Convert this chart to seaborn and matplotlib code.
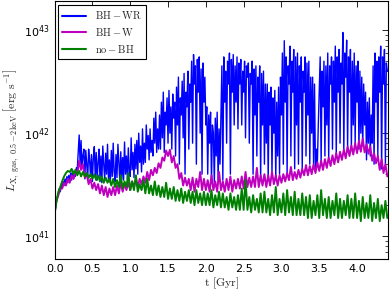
import numpy as np
import pandas as pd
import matplotlib
matplotlib.use("Agg")
import matplotlib.pyplot as plt
import seaborn as sns

# X-ray luminosity, in units of 1e41 erg/s.
# BH-WR is sampled every dt_wr Gyr, the other two every dt Gyr, from t = 0
dt_wr = 0.0125
dt = 0.025
unit = 1e41

bh_wr = [
    1.65, 1.9, 2.2, 2.4, 2.6, 2.9, 2.7, 3.1,
    2.9, 3.4, 3.1, 3.6, 3.2, 3.8, 3.3, 3.9,
    3.4, 4.1, 3.5, 4.4, 3.6, 4.2, 3.8, 4.6,
    4.5, 6.5, 9.6, 5.0, 8.5, 4.8, 6.0, 7.0,
    3.6, 6.8, 5.0, 3.5, 7.0, 5.5, 3.8, 6.2,
    3.4, 5.8, 7.4, 3.7, 6.5, 3.5, 5.2, 7.0,
    3.6, 6.0, 3.3, 7.5, 5.0, 3.5, 6.4, 4.0,
    7.8, 3.4, 5.5, 3.3, 6.8, 3.8, 8.0, 4.2,
    3.4, 6.2, 3.7, 7.8, 5.2, 3.3, 6.6, 3.6,
    5.8, 3.5, 8.2, 4.0, 6.0, 3.6, 7.2, 4.2,
    3.8, 9.0, 4.4, 6.5, 3.7, 7.8, 4.5, 8.5,
    4.0, 10, 5.2, 7.5, 4.2, 11, 5.0, 8.0,
    5.2, 12, 7.0, 9.5, 5.5, 11, 6.5, 8.5,
    6.0, 14, 8.0, 16, 6.5, 11, 7.0, 15,
    7.0, 20, 9.0, 25, 6.5, 16, 12, 22,
    8.0, 26, 10, 18, 7.0, 24, 14, 20,
    6.0, 28, 12, 35, 5.0, 22, 15, 32,
    9.0, 38, 4.0, 25, 18, 40, 7.0, 30,
    20, 50, 8.0, 58, 30, 45, 5.0, 52,
    25, 55, 10, 42, 4.0, 48, 20, 35,
    12, 18, 4.0, 15, 8.0, 16, 3.3, 12,
    10, 3.2, 14, 6.0, 16, 3.5, 11, 5.0,
    15, 45, 3.5, 55, 20, 40, 8.0, 50,
    30, 60, 4.0, 52, 25, 58, 12, 45,
    20, 55, 11, 48, 30, 52, 12, 40,
    25, 50, 9.0, 45, 35, 48, 8.0, 38,
    30, 50, 4.0, 42, 15, 45, 6.0, 35,
    20, 45, 3.5, 38, 12, 40, 5.0, 30,
    8.0, 30, 3.5, 25, 12, 28, 4.0, 22,
    10, 26, 3.5, 20, 6.0, 28, 4.0, 35,
    15, 60, 5.0, 79, 20, 55, 4.0, 45,
    30, 70, 6.0, 50, 25, 65, 4.5, 55,
    12, 60, 5.0, 45, 20, 55, 4.5, 40,
    25, 55, 6.0, 48, 15, 50, 5.0, 35,
    10, 35, 5.0, 30, 4.5, 7.0, 5.0, 12,
    25, 55, 5.0, 40, 18, 50, 6.0, 45,
    12, 60, 5.5, 45, 30, 55, 7.0, 50,
    20, 70, 6.0, 55, 25, 65, 8.0, 48,
    30, 95, 6.5, 60, 35, 80, 7.0, 55,
    25, 65, 7.0, 50, 12, 60, 8.0, 45,
    20, 50, 7.0, 40, 10, 35, 7.5, 30,
    12, 25, 5.5, 20, 8.0, 22, 6.0, 15,
    8.0, 45, 5.0, 60, 20, 50, 6.0, 55,
    25, 70, 4.5, 55, 30, 65, 5.0, 48,
    40,
]

bh_w = [
    1.65, 2.2, 2.5, 2.9, 2.9, 3.3, 3.1, 3.6,
    3.3, 3.9, 3.6, 4.1, 4.0, 5.4, 4.4, 5.0,
    3.7, 4.0, 3.2, 3.6, 2.9, 3.3, 2.8, 3.2,
    2.6, 3.1, 2.5, 3.0, 2.4, 2.9, 2.5, 3.0,
    2.5, 3.1, 2.6, 3.3, 2.7, 3.2, 2.8, 3.3,
    2.8, 3.4, 3.0, 3.6, 3.0, 3.6, 3.2, 3.8,
    3.3, 4.2, 3.5, 4.4, 3.9, 4.6, 4.1, 5.1,
    4.6, 5.8, 5.4, 6.8, 6.0, 6.9, 5.2, 6.0,
    4.6, 5.0, 3.6, 4.1, 3.1, 3.7, 3.1, 3.6,
    2.8, 3.7, 2.7, 3.6, 3.0, 4.2, 2.8, 3.6,
    2.8, 3.5, 2.7, 3.9, 2.8, 3.4, 2.7, 4.2,
    2.8, 3.4, 2.7, 3.6, 2.8, 3.8, 2.7, 3.5,
    2.9, 3.6, 2.9, 3.8, 2.9, 4.2, 3.0, 3.7,
    3.0, 3.8, 3.0, 4.6, 3.0, 3.9, 3.1, 4.0,
    3.0, 3.9, 3.1, 4.2, 3.2, 3.9, 3.1, 3.9,
    3.3, 4.0, 3.4, 4.1, 3.5, 4.7, 3.5, 4.2,
    3.6, 4.4, 3.7, 4.5, 3.9, 4.9, 3.9, 4.8,
    4.0, 5.0, 4.1, 5.2, 4.3, 5.4, 4.4, 5.6,
    4.6, 5.8, 4.8, 6.1, 5.0, 6.4, 5.2, 6.6,
    5.5, 6.9, 5.7, 7.4, 6.0, 7.6, 6.2, 8.0,
    6.4, 8.4, 6.6, 8.9, 6.5, 7.8, 6.3, 7.4,
    5.4, 6.4, 5.1, 6.0, 4.4, 5.6, 4.1, 5.0,
    3.8,
]

no_bh = [
    1.65, 2.2, 2.7, 3.0, 3.4, 3.8, 4.1, 4.3,
    4.2, 4.5, 4.0, 4.4, 3.9, 4.3, 3.8, 4.2,
    3.8, 4.1, 3.7, 4.0, 3.6, 4.0, 3.5, 3.9,
    3.4, 3.8, 3.3, 3.7, 3.3, 3.6, 3.1, 3.6,
    3.0, 3.5, 3.0, 3.9, 2.9, 3.4, 3.0, 4.1,
    2.8, 3.4, 2.8, 3.9, 2.7, 3.2, 2.8, 3.5,
    2.6, 3.6, 2.6, 3.1, 2.5, 3.4, 2.5, 3.1,
    2.4, 3.0, 2.4, 3.3, 2.3, 2.9, 2.3, 3.0,
    2.2, 2.8, 2.2, 2.9, 2.1, 2.7, 2.2, 2.8,
    2.1, 2.7, 2.0, 2.8, 2.1, 2.6, 2.0, 2.7,
    2.0, 2.6, 2.0, 2.8, 1.9, 2.5, 2.0, 2.7,
    1.9, 2.6, 1.9, 2.4, 1.8, 2.6, 1.9, 2.4,
    1.8, 2.5, 1.8, 2.9, 1.8, 3.5, 1.8, 2.4,
    1.7, 2.5, 1.8, 2.3, 1.7, 2.6, 1.7, 2.7,
    1.7, 2.3, 1.6, 2.5, 1.7, 3.0, 1.6, 2.3,
    1.7, 2.6, 1.6, 2.8, 1.7, 2.4, 1.6, 2.7,
    1.6, 2.3, 1.6, 2.6, 1.6, 2.4, 1.5, 2.5,
    1.5, 2.2, 1.6, 2.5, 1.5, 2.8, 1.6, 2.3,
    1.5, 2.4, 1.5, 2.2, 1.6, 2.6, 1.5, 2.3,
    1.5, 2.2, 1.6, 2.5, 1.5, 2.3, 1.5, 2.6,
    1.5, 2.2, 1.4, 2.4, 1.5, 2.1, 1.5, 2.5,
    1.4, 2.1, 1.5, 2.3, 1.4, 2.0, 1.5, 2.2,
    1.5,
]

labels = [r"$\mathrm{BH-WR}$", r"$\mathrm{BH-W}$", r"$\mathrm{no-BH}$"]
colors = ["#0000ff", "#bf00bf", "#008000"]
widths = [1.0, 1.4, 1.4]

wr = pd.DataFrame({"t": np.arange(len(bh_wr)) * dt_wr,
                   "L": np.array(bh_wr) * unit})
w = pd.DataFrame({"t": np.arange(len(bh_w)) * dt,
                  "L": np.array(bh_w) * unit})
nobh = pd.DataFrame({"t": np.arange(len(no_bh)) * dt,
                     "L": np.array(no_bh) * unit})

sns.set_style("white")
plt.rcParams["font.family"] = ["DejaVu Sans"]

fig = plt.figure(figsize=(3.9, 2.92), dpi=100)
ax = fig.add_axes([0.140, 0.113, 0.855, 0.882])

for d, lab, c, lw in zip([wr, w, nobh], labels, colors, widths):
    sns.lineplot(data=d, x="t", y="L", ax=ax, color=c, lw=lw,
                 label=lab, estimator=None, sort=False)

ax.set_yscale("log")
ax.set_xlim(0, 4.41)
ax.set_ylim(6e40, 1.9e43)
ax.set_xticks(np.arange(0, 4.01, 0.5))

ax.tick_params(which="both", direction="in", top=True, right=True,
               labelsize=8, colors="black")
ax.tick_params(which="major", length=4, width=0.6)
ax.tick_params(which="minor", length=2, width=0.5)
for s in ax.spines.values():
    s.set_color("black")
    s.set_linewidth(0.8)

ax.set_xlabel(r"$\mathrm{t\ [Gyr]}$", fontsize=8.5, math_fontfamily="cm", labelpad=1)
ax.set_ylabel(r"$L_{\mathrm{X,\ gas,\ 0.5-2keV}}\ \left[\mathrm{erg\ s^{-1}}\right]$",
              fontsize=8.5, math_fontfamily="cm", labelpad=2)

leg = ax.legend(loc="upper left", fontsize=7.5, frameon=True, fancybox=False,
                edgecolor="black", framealpha=1, handlelength=2.3,
                borderaxespad=0.35, labelspacing=0.45)
leg.get_frame().set_linewidth(0.8)
for txt in leg.get_texts():
    txt.set_math_fontfamily("cm")
for line in leg.get_lines():
    line.set_linewidth(1.5)

fig.savefig("out.png", dpi=100)
